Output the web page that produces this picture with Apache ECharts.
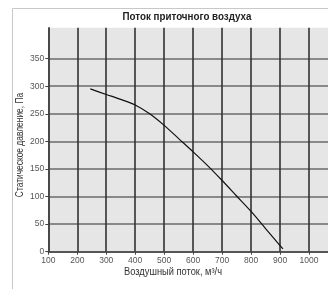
<!DOCTYPE html>
<html>
<head>
<meta charset="utf-8">
<script src="https://cdn.jsdelivr.net/npm/echarts@6/dist/echarts.min.js"></script>
<style>
  html, body { margin: 0; padding: 0; background: #fff; }
  #chart { width: 328px; height: 289px; }
</style>
</head>
<body>
<div id="chart"></div>
<script>
// кривая вентилятора: расход (м3/ч) / статическое давление (Па)
var flow = [245, 300, 350, 400, 450, 500, 550, 600, 650, 700, 750, 800, 850, 900, 910];
var pressure = [295, 285, 276, 266, 250, 229, 205, 181, 156, 129, 101, 73, 42, 11, 5];
var xTicks = [100, 200, 300, 400, 500, 600, 700, 800, 900, 1000, 1100];
var yTicks = [0, 50, 100, 150, 200, 250, 300, 350];

var font = '"Liberation Sans Narrow", "Arial Narrow", "Liberation Sans", Arial, sans-serif';

var chart = echarts.init(document.getElementById('chart'), null, { renderer: 'canvas' });

var points = flow.map(function (f, i) {
  return [f, pressure[i]];
});

// цвета горизонтальных линий: линии выше 350 не рисуем
var hColors = yTicks.map(function () { return '#6a6a6a'; });
hColors.push('rgba(0,0,0,0)');
hColors.push('rgba(0,0,0,0)');

var option;
option = {
  animation: false,
  backgroundColor: '#fff',
  grid: {
    left: 48.3,
    right: -10,
    top: 27.7,
    bottom: 37.3,
    outerBoundsMode: 'none',
    containLabel: false,
    show: true,
    backgroundColor: '#e6e6e6',
    borderWidth: 0
  },
  graphic: [
    {
      type: 'rect',
      z: -10,
      shape: { x: 12.5, y: 8.5, width: 330, height: 300 },
      style: { fill: '#fff', stroke: '#c8c8c8', lineWidth: 1 }
    },
    {
      type: 'text',
      x: 187,
      y: 17,
      scaleX: 0.89,
      style: {
        text: 'Поток приточного воздуха',
        font: 'bold 11px ' + font,
        fill: '#222',
        align: 'center',
        verticalAlign: 'middle'
      }
    },
    {
      type: 'text',
      x: 173,
      y: 272,
      scaleX: 0.93,
      style: {
        text: 'Воздушный поток, м³/ч',
        font: '10px ' + font,
        fill: '#333',
        align: 'center',
        verticalAlign: 'middle'
      }
    },
    {
      type: 'text',
      x: 20,
      y: 145,
      rotation: Math.PI / 2,
      scaleX: 0.84,
      style: {
        text: 'Статическое давление, Па',
        font: '10px ' + font,
        fill: '#333',
        align: 'center',
        verticalAlign: 'middle'
      }
    }
  ],
  xAxis: {
    type: 'value',
    min: xTicks[0],
    max: xTicks[xTicks.length - 1],
    interval: 100,
    axisLine: { show: true, lineStyle: { color: '#444', width: 1.5 } },
    axisTick: { show: true, length: 3, lineStyle: { color: '#444' } },
    axisLabel: {
      color: '#555',
      fontSize: 8.5,
      fontFamily: font,
      margin: 4,
      formatter: function (v) {
        return String(v);
      }
    },
    splitLine: { show: true, lineStyle: { color: '#333', width: 1.6 } }
  },
  yAxis: {
    type: 'value',
    min: 0,
    max: 406,
    interval: 50,
    axisLine: { show: true, lineStyle: { color: '#444', width: 1.5 } },
    axisTick: { show: true, length: 3, customValues: yTicks, lineStyle: { color: '#444' } },
    axisLabel: {
      color: '#555',
      fontSize: 8.5,
      fontFamily: font,
      margin: 4,
      customValues: yTicks,
      formatter: function (v) {
        return String(v);
      }
    },
    splitLine: { show: true, lineStyle: { color: hColors, width: 1.6 } }
  },
  series: [
    {
      type: 'line',
      data: points,
      smooth: 0.3,
      symbol: 'none',
      lineStyle: { color: '#111', width: 1.2 }
    }
  ]
};

option && chart.setOption(option);
</script>
</body>
</html>
